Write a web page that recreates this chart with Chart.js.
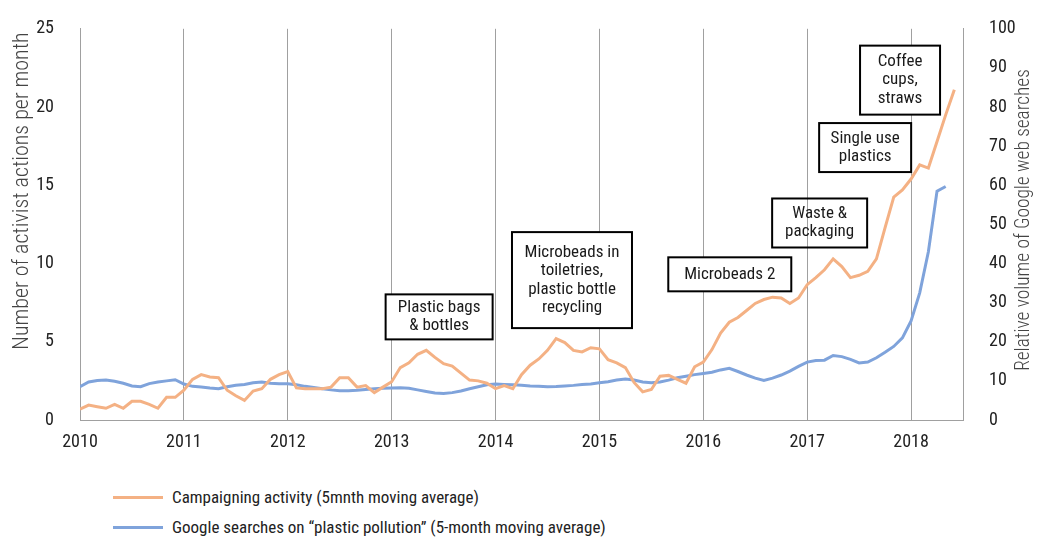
<!DOCTYPE html>
<html>
<head>
<meta charset="utf-8">
<script src="https://cdn.jsdelivr.net/npm/chart.js@4.4.1/dist/chart.umd.min.js"></script>
<style>
  body { margin: 0; background: #fff; width: 1047px; height: 548px; overflow: hidden; }
  #wrap { position: relative; width: 1047px; height: 470px; }
  .legend { position: absolute; left: 113px; top: 482px; font-size: 17px; color: #222; }
  .legend div { display: flex; align-items: center; height: 30px; }
  .legend span.swatch { display: inline-block; width: 50px; height: 3px; margin-right: 9px; }
</style>
</head>
<body>
<div id="wrap"><canvas id="chart" width="1047" height="470"></canvas></div>
<div class="legend" id="legend"></div>
<script>
/** Campaigning activity vs Google searches, monthly 2010–2018 */
const FONT = "'Roboto Condensed', 'Liberation Sans Narrow', 'DejaVu Sans Condensed', Roboto, sans-serif";
document.getElementById('legend').style.fontFamily = FONT;

const START_YEAR = 2010;
const yearTicks = [2010, 2011, 2012, 2013, 2014, 2015, 2016, 2017, 2018];

// activist actions per month, 5-month moving average (Jan 2010 → Jun 2018)
const campaigning = [
  0.7, 0.95, 0.85, 0.75, 1.0, 0.75, 1.2, 1.2, 1.0, 0.75, 1.45, 1.45,
  1.9, 2.6, 2.9, 2.75, 2.7, 1.9, 1.55, 1.25, 1.85, 2.0, 2.6, 2.9,
  3.1, 2.05, 2.0, 2.0, 2.0, 2.1, 2.7, 2.7, 2.1, 2.2, 1.75, 2.1,
  2.45, 3.35, 3.65, 4.2, 4.45, 4.0, 3.6, 3.45, 3.0, 2.55, 2.5, 2.35,
  2.0, 2.2, 2.0, 2.9, 3.5, 3.9, 4.45, 5.2, 4.95, 4.45, 4.35, 4.62,
  4.55, 3.85, 3.65, 3.35, 2.4, 1.8, 1.95, 2.8, 2.85, 2.6, 2.35, 3.4,
  3.7, 4.5, 5.55, 6.25, 6.55, 7.0, 7.45, 7.7, 7.85, 7.8, 7.45, 7.8,
  8.65, 9.1, 9.6, 10.3, 9.8, 9.1, 9.25, 9.5, 10.3, 12.3, 14.25, 14.7,
  15.4, 16.3, 16.1, 17.8, 19.5, 21.1
];

// relative Google search volume, 5-month moving average (Jan 2010 → May 2018)
const searches = [
  8.5, 9.7, 10.1, 10.2, 9.9, 9.4, 8.7, 8.5, 9.3, 9.7, 10.0, 10.3,
  9.2, 8.6, 8.45, 8.2, 8.0, 8.5, 8.9, 9.1, 9.5, 9.7, 9.4, 9.25,
  9.25, 9.0, 8.6, 8.3, 8.0, 7.7, 7.5, 7.5, 7.6, 7.8, 8.0, 8.1,
  8.2, 8.25, 8.1, 7.7, 7.3, 6.9, 6.75, 7.0, 7.4, 8.0, 8.5, 9.0,
  9.2, 9.1, 9.0, 8.9, 8.7, 8.6, 8.5, 8.55, 8.7, 8.85, 9.05, 9.2,
  9.5, 9.8, 10.2, 10.5, 10.2, 9.7, 9.5, 9.7, 10.2, 10.8, 11.2, 11.6,
  11.9, 12.2, 12.8, 13.2, 12.4, 11.5, 10.7, 10.1, 10.7, 11.5, 12.5, 13.7,
  14.8, 15.2, 15.3, 16.5, 16.2, 15.5, 14.6, 14.8, 15.9, 17.3, 18.8, 21.0,
  25.3, 32.5, 43.0, 58.5, 59.7
];

const seriesNames = [
  'Campaigning activity (5mnth moving average)',
  'Google searches on \u201cplastic pollution\u201d (5-month moving average)'
];
const COLORS = ['#F4B184', '#7FA3DB'];

// annotation boxes: centre in (year, left-axis value), size in px
const NOTES = [
  { lines: ['Plastic bags', '& bottles'], x: 2013.457, y: 6.59, w: 107, h: 45, fill: true },
  { lines: ['Microbeads in', 'toiletries,', 'plastic bottle', 'recycling'], x: 2014.736, y: 8.94, w: 120, h: 96, fill: true },
  { lines: ['Microbeads 2'], x: 2016.255, y: 9.31, w: 123, h: 34, fill: true },
  { lines: ['Waste &', 'packaging'], x: 2017.12, y: 12.59, w: 95, h: 49, fill: false },
  { lines: ['Single use', 'plastics'], x: 2017.558, y: 17.41, w: 92, h: 49, fill: true },
  { lines: ['Coffee', 'cups,', 'straws'], x: 2017.894, y: 21.72, w: 80, h: 69, fill: true },
];

// axis titles, both read bottom-to-top: text, centre x, centre y, font size
const AXIS_TITLES = [
  ['Number of activist actions per month', 22, 191, 22],
  ['Relative volume of Google web searches', 1024, 220, 19.3],
];

const toPoints = arr => arr.map((v, i) => ({ x: START_YEAR + i / 12, y: v }));

// legend as plain html under the canvas
document.getElementById('legend').innerHTML = seriesNames.map((n, i) =>
  `<div><span class="swatch" style="background:${COLORS[i]}"></span>${n}</div>`).join('');

const notesPlugin = {
  id: 'notes',
  afterDraw(chart) {
    const { ctx, scales: { x, yL } } = chart;
    ctx.save();
    ctx.font = `17px ${FONT}`;
    ctx.textAlign = 'center';
    ctx.textBaseline = 'middle';
    for (const n of NOTES) {
      const cx = x.getPixelForValue(n.x), cy = yL.getPixelForValue(n.y);
      if (n.fill) { ctx.fillStyle = '#fff'; ctx.fillRect(cx - n.w / 2, cy - n.h / 2, n.w, n.h); }
      ctx.lineWidth = 2; ctx.strokeStyle = '#000';
      ctx.strokeRect(cx - n.w / 2, cy - n.h / 2, n.w, n.h);
      ctx.fillStyle = '#1a1a1a';
      n.lines.forEach((t, i) => ctx.fillText(t, cx, cy + (i - (n.lines.length - 1) / 2) * 18.5));
    }
    ctx.fillStyle = '#444';
    for (const [t, tx, ty, size] of AXIS_TITLES) {
      ctx.font = `300 ${size}px ${FONT}`;
      ctx.save(); ctx.translate(tx, ty); ctx.rotate(-Math.PI / 2); ctx.fillText(t, 0, 0); ctx.restore();
    }
    ctx.restore();
  }
};

Chart.defaults.font.family = FONT;
Chart.defaults.font.size = 18;
Chart.defaults.color = '#222';

new Chart(document.getElementById('chart'), {
  type: 'line',
  data: {
    datasets: [
      { label: seriesNames[0], data: toPoints(campaigning), borderColor: COLORS[0], borderWidth: 3,
        pointRadius: 0, tension: 0, yAxisID: 'yL' },
      { label: seriesNames[1], data: toPoints(searches), borderColor: COLORS[1], borderWidth: 3,
        pointRadius: 0, tension: 0, yAxisID: 'yR' },
    ]
  },
  options: {
    responsive: false, animation: false,
    layout: { padding: { top: 20, left: 0, right: 0, bottom: 0 } },
    plugins: { legend: { display: false }, tooltip: { enabled: false } },
    scales: {
      x: {
        type: 'linear', min: 2010, max: 2018.5,
        afterBuildTicks: s => { s.ticks = yearTicks.map(v => ({ value: v })); },
        ticks: { padding: 12, callback: v => String(v), maxRotation: 0 },
        grid: { color: '#A0A0A0', lineWidth: 1, drawTicks: false },
        border: { color: '#A0A0A0' },
        afterFit: s => { s.height = 50; }
      },
      yL: {
        position: 'left', min: 0, max: 25,
        ticks: { stepSize: 5, padding: 18 },
        grid: { display: false },
        border: { display: true, color: '#A0A0A0' },
        afterFit: s => { s.width = 80; }
      },
      yR: {
        position: 'right', min: 0, max: 100,
        ticks: { stepSize: 10, padding: 18 },
        grid: { display: false },
        border: { display: true, color: '#A0A0A0' },
        afterFit: s => { s.width = 84; }
      }
    }
  },
  plugins: [notesPlugin]
});
</script>
</body>
</html>
